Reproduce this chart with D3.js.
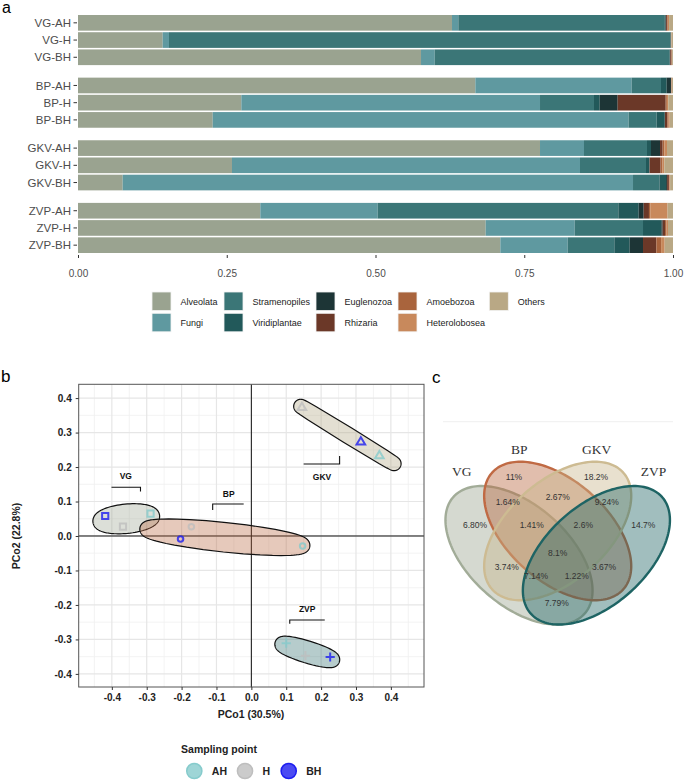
<!DOCTYPE html>
<html>
<head>
<meta charset="utf-8">
<script src="https://cdn.jsdelivr.net/npm/d3@7"></script>
<style>
  body { margin: 0; background: #fff; }
  svg { font-family: "Liberation Sans", Arial, sans-serif; }
</style>
</head>
<body>
<svg id="fig" width="685" height="781"></svg>
<script>
// ---------- data: panel a (relative abundance) ----------
var samples = ["VG-AH", "VG-H", "VG-BH", "BP-AH", "BP-H", "BP-BH",
               "GKV-AH", "GKV-H", "GKV-BH", "ZVP-AH", "ZVP-H", "ZVP-BH"];
var sites = ["VG", "BP", "GKV", "ZVP"];
var points = ["AH", "H", "BH"];
var taxa = ["Alveolata", "Fungi", "Stramenopiles", "Viridiplantae", "Euglenozoa",
            "Rhizaria", "Amoebozoa", "Heterolobosea", "Others"];

var alveolata     = [0.6286, 0.1423, 0.5765, 0.6678, 0.2745, 0.2264, 0.7765, 0.2588, 0.0751, 0.3064, 0.6852, 0.7098];
var fungi         = [0.0106, 0.0106, 0.0230, 0.2627, 0.5020, 0.6990, 0.0739, 0.5849, 0.8577, 0.1973, 0.1495, 0.1132];
var stramenopiles = [0.3462, 0.8425, 0.3943, 0.0493, 0.0907, 0.0471, 0.1059, 0.1109, 0.0444, 0.4044, 0.1149, 0.0784];
var viridiplantae = [0.0020, 0.0010, 0.0010, 0.0096, 0.0096, 0.0135, 0.0067, 0.0056, 0.0112, 0.0342, 0.0308, 0.0258];
var euglenozoa    = [0.0010, 0.0000, 0.0005, 0.0072, 0.0302, 0.0005, 0.0152, 0.0005, 0.0017, 0.0084, 0.0022, 0.0224];
var rhizaria      = [0.0020, 0.0005, 0.0020, 0.0005, 0.0807, 0.0040, 0.0044, 0.0185, 0.0030, 0.0089, 0.0040, 0.0224];
var amoebozoa     = [0.0010, 0.0003, 0.0007, 0.0004, 0.0020, 0.0022, 0.0030, 0.0032, 0.0010, 0.0022, 0.0025, 0.0080];
var heterolobosea = [0.0020, 0.0003, 0.0005, 0.0005, 0.0023, 0.0018, 0.0043, 0.0030, 0.0010, 0.0291, 0.0025, 0.0060];
var others        = [0.0066, 0.0025, 0.0015, 0.0020, 0.0080, 0.0055, 0.0101, 0.0146, 0.0049, 0.0091, 0.0084, 0.0140];
var abundanceTicks = [0, 0.25, 0.5, 0.75, 1];

// ---------- data: panel b (PCoA) ----------
var pcoSite  = ["VG", "VG", "VG", "BP", "BP", "BP", "GKV", "GKV", "GKV", "ZVP", "ZVP", "ZVP"];
var pcoPoint = ["AH", "H", "BH", "AH", "H", "BH", "AH", "H", "BH", "AH", "H", "BH"];
var pco1 = [-0.289, -0.368, -0.419, 0.147, -0.172, -0.203, 0.367, 0.145, 0.314, 0.100, 0.155, 0.226];
var pco2 = [0.065, 0.027, 0.058, -0.029, 0.027, -0.009, 0.233, 0.373, 0.273, -0.311, -0.347, -0.351];
var pcoTicks = [-0.4, -0.3, -0.2, -0.1, 0, 0.1, 0.2, 0.3, 0.4];

// ---------- data: panel c (Venn) ----------
var vennSets = ["VG", "BP", "GKV", "ZVP"];
var vennRegions = ["1000", "0100", "0010", "0001", "1100", "0110", "0011", "1110",
                   "0111", "1111", "1010", "0101", "1011", "1101", "1001"];
var vennPct = ["6.80%", "11%", "18.2%", "14.7%", "1.64%", "2.67%", "9.24%", "1.41%",
               "2.6%", "8.1%", "3.74%", "3.67%", "7.14%", "1.22%", "7.79%"];

// ---------- styles ----------
var taxaColors = ["#9AA390", "#5F99A0", "#3B7677", "#22595A", "#1D3536",
                  "#6B3828", "#A9643D", "#C8895C", "#B9A885"];
var siteColors = {VG: "#9AA490", BP: "#B8643C", GKV: "#B0A27E", ZVP: "#2E6E6E"};
var pointColors = {AH: "#86CBCC", H: "#BEBEBE", BH: "#1E1EF0"};
var vennStroke = ["#A2AC98", "#C06A44", "#CDBB92", "#1E6464"];
var vennFill = ["#9AA490", "#B8643C", "#C8B58A", "#1E6464"];

var svg = d3.select("#fig");

// panel letters
svg.append("text").attr("x", 2).attr("y", 13).attr("font-size", 16).text("a");
svg.append("text").attr("x", 1).attr("y", 382).attr("font-size", 17).text("b");
svg.append("text").attr("x", 432).attr("y", 383).attr("font-size", 17).text("c");

// =============== panel a: stacked bars ===============
var series = [alveolata, fungi, stramenopiles, viridiplantae, euglenozoa,
              rhizaria, amoebozoa, heterolobosea, others];
var rows = samples.map(function (s, i) {
  var r = {sample: s, site: sites[Math.floor(i / 3)], point: points[i % 3]};
  taxa.forEach(function (t, k) { r[t] = series[k][i]; });
  return r;
});

var barX = d3.scaleLinear().domain([0, 1]).range([78, 673]);
var groupY = d3.scaleBand().domain(sites).range([15, 253]).paddingInner(0.2);
var rowY = d3.scaleBand().domain(points).range([0, groupY.bandwidth()]).paddingInner(0.09);
function sampleY(d) { return groupY(d.site) + rowY(d.point); }

var stacked = d3.stack().keys(taxa)(rows);

var barG = svg.append("g");
barG.selectAll("g.layer")
  .data(stacked)
  .enter().append("g")
  .attr("class", "layer")
  .attr("fill", function (d, i) { return taxaColors[i]; })
  .selectAll("rect")
  .data(function (d) { return d; })
  .enter().append("rect")
  .attr("x", function (d) { return barX(d[0]); })
  .attr("width", function (d) { return Math.max(0, barX(d[1]) - barX(d[0])); })
  .attr("y", function (d) { return sampleY(d.data); })
  .attr("height", rowY.bandwidth());

// y labels
var yLab = barG.selectAll("g.ylab").data(rows).enter().append("g").attr("class", "ylab");
yLab.append("line")
  .attr("x1", 73.5).attr("x2", 77)
  .attr("y1", function (d) { return sampleY(d) + rowY.bandwidth() / 2; })
  .attr("y2", function (d) { return sampleY(d) + rowY.bandwidth() / 2; })
  .attr("stroke", "#333").attr("stroke-width", 1);
yLab.append("text")
  .attr("x", 71).attr("text-anchor", "end")
  .attr("y", function (d) { return sampleY(d) + rowY.bandwidth() / 2; })
  .attr("dy", "0.36em")
  .attr("font-size", 11.5).attr("fill", "#4D4D4D")
  .text(function (d) { return d.sample; });

// x axis
var barAxis = svg.append("g")
  .attr("transform", "translate(0,255)")
  .call(d3.axisBottom(barX).tickValues(abundanceTicks).tickFormat(d3.format(".2f")).tickSize(3).tickPadding(12));
barAxis.select(".domain").remove();
barAxis.selectAll(".tick line").attr("stroke", "#333");
barAxis.selectAll(".tick text").attr("font-size", 10).attr("fill", "#4D4D4D")
  .attr("font-family", "Liberation Sans, Arial, sans-serif");

// legend (column-major, 2 rows)
var legendColX = [152, 224, 316, 398, 489.3];
var legendRowY = [292, 313.3];
var legG = svg.append("g");
taxa.forEach(function (t, i) {
  var col = Math.floor(i / 2), row = i % 2;
  var kx = legendColX[col], ky = legendRowY[row];
  legG.append("rect").attr("x", kx).attr("y", ky).attr("width", 19).attr("height", 18.5)
    .attr("fill", taxaColors[i]).attr("stroke", "#F2F2F2").attr("stroke-width", 0.8);
  legG.append("text").attr("x", kx + 28.5).attr("y", ky + 9.5).attr("dy", "0.35em")
    .attr("font-size", 9).attr("fill", "#222").text(t);
});

// =============== panel b: PCoA ===============
var px = d3.scaleLinear().domain([-0.495, 0.495]).range([78.7, 424]);
var py = d3.scaleLinear().domain([-0.438, 0.44]).range([687, 384.3]);
var pcoG = svg.append("g");

// grid
var minorX = pcoTicks.map(function (v) { return v - 0.05; }).concat([0.45]);
var minorY = pcoTicks.slice(1).map(function (v) { return v - 0.05; });
pcoG.selectAll("line.mx").data(minorX).enter().append("line")
  .attr("x1", px).attr("x2", px).attr("y1", py.range()[0]).attr("y2", py.range()[1])
  .attr("stroke", "#F0F0F0").attr("stroke-width", 0.8);
pcoG.selectAll("line.my").data(minorY).enter().append("line")
  .attr("y1", py).attr("y2", py).attr("x1", px.range()[0]).attr("x2", px.range()[1])
  .attr("stroke", "#F0F0F0").attr("stroke-width", 0.8);
pcoG.selectAll("line.gx").data(pcoTicks).enter().append("line")
  .attr("x1", px).attr("x2", px).attr("y1", py.range()[0]).attr("y2", py.range()[1])
  .attr("stroke", "#E6E6E6").attr("stroke-width", 1.2);
pcoG.selectAll("line.gy").data(pcoTicks).enter().append("line")
  .attr("y1", py).attr("y2", py).attr("x1", px.range()[0]).attr("x2", px.range()[1])
  .attr("stroke", "#E6E6E6").attr("stroke-width", 1.2);

// zero lines
pcoG.append("line").attr("x1", px(0)).attr("x2", px(0)).attr("y1", py.range()[0]).attr("y2", py.range()[1])
  .attr("stroke", "#111").attr("stroke-width", 1);
pcoG.append("line").attr("y1", py(0)).attr("y2", py(0)).attr("x1", px.range()[0]).attr("x2", px.range()[1])
  .attr("stroke", "#111").attr("stroke-width", 1);

// enclosing ellipses (minimum area ellipse of the group, expanded outward)
function markEllipse(pts, expand) {
  var cx = d3.mean(pts, function (p) { return p[0]; });
  var cy = d3.mean(pts, function (p) { return p[1]; });
  var sxx = 2 * d3.mean(pts, function (p) { return (p[0] - cx) * (p[0] - cx); });
  var syy = 2 * d3.mean(pts, function (p) { return (p[1] - cy) * (p[1] - cy); });
  var sxy = 2 * d3.mean(pts, function (p) { return (p[0] - cx) * (p[1] - cy); });
  var tr = sxx + syy, det = sxx * syy - sxy * sxy;
  var disc = Math.sqrt(Math.max(tr * tr / 4 - det, 0));
  var a = Math.sqrt(tr / 2 + disc), b = Math.sqrt(Math.max(tr / 2 - disc, 1e-6));
  var ang = 0.5 * Math.atan2(2 * sxy, sxx - syy);
  var ux = Math.cos(ang), uy = Math.sin(ang);
  var out = [];
  for (var i = 0; i < 240; i++) {
    var phi = i / 240 * 2 * Math.PI;
    var c = Math.cos(phi), s = Math.sin(phi);
    var den = Math.sqrt(a * a * c * c + b * b * s * s);
    var lx = a * a * c / den + expand * c;
    var ly = b * b * s / den + expand * s;
    out.push([cx + lx * ux - ly * uy, cy + lx * uy + ly * ux]);
  }
  return out;
}

var pcoData = pco1.map(function (v, i) {
  return {site: pcoSite[i], point: pcoPoint[i], x: v, y: pco2[i]};
});
var closedLine = d3.line().curve(d3.curveLinearClosed);
sites.forEach(function (s) {
  var pts = pcoData.filter(function (d) { return d.site === s; })
    .map(function (d) { return [px(d.x), py(d.y)]; });
  pcoG.append("path").attr("d", closedLine(markEllipse(pts, 7)))
    .attr("fill", siteColors[s]).attr("fill-opacity", 0.35)
    .attr("stroke", "#111").attr("stroke-width", 1.2);
});

// group labels with connectors (offsets in px from label anchor)
var markLabels = [
  {site: "VG",  x: -0.360, y: 0.174,  line: [[-14.3, 11.3], [14.7, 11.3], [14.7, 15.5]]},
  {site: "BP",  x: -0.065, y: 0.1226, line: [[-16, 16.3], [-16, 10.3], [15, 10.3]]},
  {site: "GKV", x: 0.2026, y: 0.172,  line: [[-18.4, -12.7], [17.6, -12.7], [17.6, -20.7]]},
  {site: "ZVP", x: 0.160,  y: -0.2116, line: [[-17.4, 14.7], [-17.4, 11], [17.6, 11]]}
];
markLabels.forEach(function (m) {
  var lx = px(m.x), ly = py(m.y);
  pcoG.append("path")
    .attr("d", d3.line()(m.line.map(function (p) { return [lx + p[0], ly + p[1]]; })))
    .attr("fill", "none").attr("stroke", "#111").attr("stroke-width", 1.1);
  pcoG.append("text").attr("x", lx).attr("y", ly).attr("dy", "0.35em")
    .attr("text-anchor", "middle").attr("font-size", 8.5).attr("font-weight", "bold")
    .attr("fill", "#111").text(m.site);
});

// points
var shapePath = {
  VG: "M-3.1,-3.1H3.1V3.1H-3.1Z",
  BP: d3.symbol(d3.symbolCircle, 24)(),
  GKV: "M0,-4.6L4.3,2.7L-4.3,2.7Z",
  ZVP: "M-4.6,0H4.6M0,-4.6V4.6"
};
pcoG.selectAll("path.pt").data(pcoData).enter().append("path")
  .attr("class", "pt")
  .attr("transform", function (d) { return "translate(" + px(d.x) + "," + py(d.y) + ")"; })
  .attr("d", function (d) { return shapePath[d.site]; })
  .attr("fill", "none")
  .attr("stroke", function (d) { return pointColors[d.point]; })
  .attr("stroke-opacity", 0.8)
  .attr("stroke-width", 2);

// panel border
pcoG.append("rect").attr("x", 78.7).attr("y", 384.3).attr("width", 424 - 78.7).attr("height", 687 - 384.3)
  .attr("fill", "none").attr("stroke", "#555").attr("stroke-width", 1);

// axes
var fmt1 = function (d) { return d.toFixed(1); };
var xAx = svg.append("g").attr("transform", "translate(0,687)")
  .call(d3.axisBottom(px).tickValues(pcoTicks).tickFormat(fmt1).tickSize(3).tickPadding(4));
var yAx = svg.append("g").attr("transform", "translate(78.7,0)")
  .call(d3.axisLeft(py).tickValues(pcoTicks).tickFormat(fmt1).tickSize(3).tickPadding(4));
[xAx, yAx].forEach(function (ax) {
  ax.select(".domain").remove();
  ax.selectAll(".tick line").attr("stroke", "#333");
  ax.selectAll(".tick text").attr("font-size", 10).attr("font-weight", "bold")
    .attr("fill", "#222").attr("font-family", "Liberation Sans, Arial, sans-serif");
});
svg.append("text").attr("x", 251).attr("y", 717.5).attr("text-anchor", "middle")
  .attr("font-size", 10.5).attr("font-weight", "bold").attr("fill", "#222").text("PCo1 (30.5%)");
svg.append("text").attr("transform", "translate(20,536) rotate(-90)").attr("text-anchor", "middle")
  .attr("font-size", 10.5).attr("font-weight", "bold").attr("fill", "#222").text("PCo2 (22.8%)");

// sampling point legend
svg.append("text").attr("x", 219).attr("y", 752.5).attr("text-anchor", "middle")
  .attr("font-size", 10.5).attr("font-weight", "bold").attr("fill", "#222").text("Sampling point");
var sampLegX = [194.3, 245, 288.7];
points.forEach(function (p, i) {
  svg.append("circle").attr("cx", sampLegX[i]).attr("cy", 771).attr("r", 7.6)
    .attr("fill", pointColors[p]).attr("fill-opacity", 0.8)
    .attr("stroke", pointColors[p]).attr("stroke-width", 1.5);
  svg.append("text").attr("x", sampLegX[i] + 17.5).attr("y", 771).attr("dy", "0.36em")
    .attr("font-size", 10.5).attr("font-weight", "bold").attr("fill", "#222").text(p);
});

// =============== panel c: Venn ===============
var vx = d3.scaleLinear().domain([0, 1]).range([428.7, 686.7]);
var vy = d3.scaleLinear().domain([0, 1]).range([669.5, 426.5]);
var vennG = svg.append("g");

vennG.append("line").attr("x1", 443).attr("x2", 673).attr("y1", 421.7).attr("y2", 421.7)
  .attr("stroke", "#EFEFEF").attr("stroke-width", 1);

var vennShapes = [
  {cx: 0.35, cy: 0.47, rot: -45},
  {cx: 0.50, cy: 0.57, rot: -45},
  {cx: 0.50, cy: 0.57, rot: 45},
  {cx: 0.65, cy: 0.47, rot: 45}
];
var vennA = 0.35, vennB = 0.20;
vennShapes.forEach(function (e, i) {
  var th = e.rot * Math.PI / 180, pts = [];
  for (var k = 0; k < 180; k++) {
    var t = k / 180 * 2 * Math.PI;
    var ex = e.cx + vennA * Math.cos(t) * Math.cos(th) - vennB * Math.sin(t) * Math.sin(th);
    var ey = e.cy + vennA * Math.cos(t) * Math.sin(th) + vennB * Math.sin(t) * Math.cos(th);
    pts.push([vx(ex), vy(ey)]);
  }
  vennG.append("path").attr("d", closedLine(pts))
    .attr("fill", vennFill[i]).attr("fill-opacity", 0.42)
    .attr("stroke", vennStroke[i]).attr("stroke-width", 2.4);
});

var vennLabelPos = {
  "1000": [0.1795, 0.5947], "0100": [0.3306, 0.7935], "0010": [0.6484, 0.7935],
  "0001": [0.8318, 0.5947], "1100": [0.3062, 0.6906], "0110": [0.5000, 0.7087],
  "0011": [0.6899, 0.6906], "1110": [0.3992, 0.5947], "0111": [0.5992, 0.5947],
  "1111": [0.5000, 0.4782], "1010": [0.3023, 0.4231], "0101": [0.6795, 0.4231],
  "1011": [0.4159, 0.3848], "1101": [0.5736, 0.3848], "1001": [0.4961, 0.2749]
};
vennRegions.forEach(function (r, i) {
  var p = vennLabelPos[r];
  vennG.append("text").attr("x", vx(p[0])).attr("y", vy(p[1])).attr("dy", "0.35em")
    .attr("text-anchor", "middle").attr("font-size", 8.5).attr("fill", "#333")
    .text(vennPct[i]);
});

var vennSetPos = [[0.128, 0.814], [0.351, 0.907], [0.651, 0.907], [0.871, 0.814]];
vennSets.forEach(function (s, i) {
  vennG.append("text").attr("x", vx(vennSetPos[i][0])).attr("y", vy(vennSetPos[i][1])).attr("dy", "0.35em")
    .attr("text-anchor", "middle").attr("font-size", 13.5)
    .attr("font-family", "Liberation Serif, Times New Roman, serif").attr("fill", "#333")
    .text(s);
});
</script>
</body>
</html>
